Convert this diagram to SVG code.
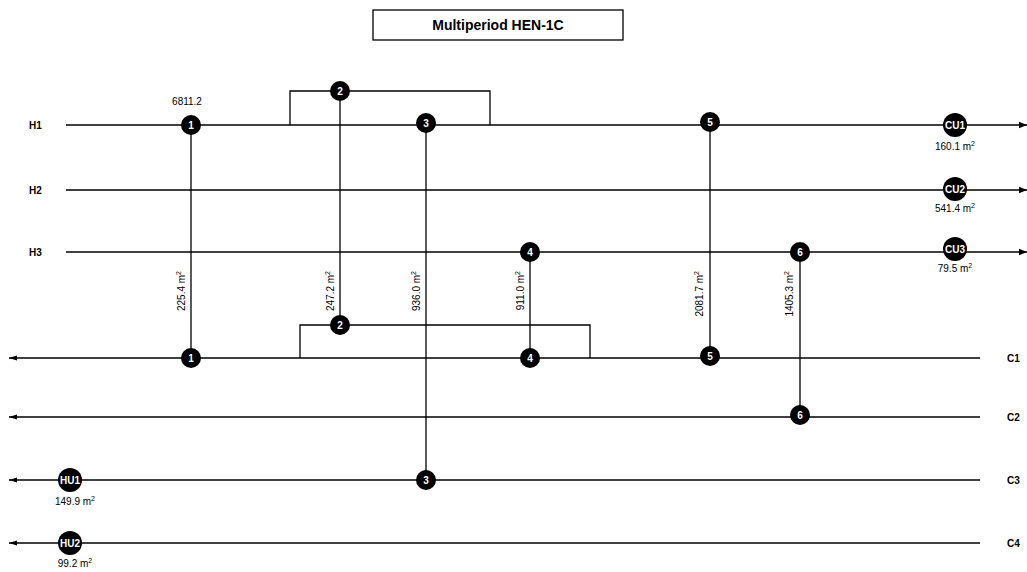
<svg xmlns="http://www.w3.org/2000/svg" width="1027" height="572" viewBox="0 0 1027 572">
<defs>
<style>
.ln{stroke:#000;stroke-width:1.3;fill:none}
.nd{fill:#000}
.nt{fill:#fff;font-family:"Liberation Sans",Arial,sans-serif;font-size:10px;font-weight:bold;text-anchor:middle;dominant-baseline:central}
.lb{fill:#000;font-family:"Liberation Sans",Arial,sans-serif;font-size:10px}
.sl{fill:#000;font-family:"Liberation Sans",Arial,sans-serif;font-size:10px;font-weight:bold}
.sup{font-size:7px}
</style>
<marker id="ar" viewBox="0 0 10 10" refX="10" refY="5" markerWidth="8" markerHeight="8" markerUnits="userSpaceOnUse" orient="auto">
<path d="M0,1 L10,5 L0,9 Z" fill="#000"/>
</marker>
<marker id="arl" viewBox="0 0 10 10" refX="10" refY="5" markerWidth="12" markerHeight="8" markerUnits="userSpaceOnUse" orient="auto">
<path d="M0,2 L10,5 L0,8 Z" fill="#000"/>
</marker>
</defs>
<rect width="1027" height="572" fill="#fff"/>
<g id="title">
<rect x="373" y="10" width="250" height="30" fill="#fff" stroke="#000" stroke-width="1.3"/>
<text x="498" y="30" font-family="Liberation Sans,Arial,sans-serif" font-size="14" font-weight="bold" text-anchor="middle">Multiperiod HEN-1C</text>
</g>
<g id="streams">
<line class="ln" x1="66" y1="125" x2="1027" y2="125" marker-end="url(#ar)"/>
<line class="ln" x1="66" y1="190" x2="1027" y2="190" marker-end="url(#ar)"/>
<line class="ln" x1="66" y1="252" x2="1027" y2="252" marker-end="url(#ar)"/>
<line class="ln" x1="980" y1="358" x2="9" y2="358" marker-end="url(#arl)"/>
<line class="ln" x1="980" y1="417" x2="9" y2="417" marker-end="url(#arl)"/>
<line class="ln" x1="980" y1="480" x2="9" y2="480" marker-end="url(#arl)"/>
<line class="ln" x1="980" y1="543" x2="9" y2="543" marker-end="url(#arl)"/>
<text class="sl" x="29" y="129">H1</text>
<text class="sl" x="29" y="194">H2</text>
<text class="sl" x="29" y="256">H3</text>
<text class="sl" x="1007" y="362">C1</text>
<text class="sl" x="1007" y="421">C2</text>
<text class="sl" x="1007" y="484">C3</text>
<text class="sl" x="1007" y="547">C4</text>
</g>
<g id="connectors">
<polyline class="ln" points="290,125 290,91 490,91 490,125"/>
<polyline class="ln" points="300,358 300,325 590,325 590,358"/>
<line class="ln" x1="191" y1="125" x2="191" y2="358"/>
<line class="ln" x1="340" y1="91" x2="340" y2="325"/>
<line class="ln" x1="426" y1="125" x2="426" y2="480"/>
<line class="ln" x1="530" y1="252" x2="530" y2="358"/>
<line class="ln" x1="710" y1="122" x2="710" y2="358"/>
<line class="ln" x1="800" y1="252" x2="800" y2="417"/>
</g>
<g id="areas">
<text class="lb" transform="translate(185,271) rotate(-90)" text-anchor="end">225.4 m<tspan class="sup" dy="-4">2</tspan></text>
<text class="lb" transform="translate(334,271) rotate(-90)" text-anchor="end">247.2 m<tspan class="sup" dy="-4">2</tspan></text>
<text class="lb" transform="translate(420,271) rotate(-90)" text-anchor="end">936.0 m<tspan class="sup" dy="-4">2</tspan></text>
<text class="lb" transform="translate(524,271) rotate(-90)" text-anchor="end">911.0 m<tspan class="sup" dy="-4">2</tspan></text>
<text class="lb" transform="translate(703,271) rotate(-90)" text-anchor="end">2081.7 m<tspan class="sup" dy="-4">2</tspan></text>
<text class="lb" transform="translate(793,271) rotate(-90)" text-anchor="end">1405.3 m<tspan class="sup" dy="-4">2</tspan></text>
<text class="lb" x="187" y="105" text-anchor="middle">6811.2</text>
</g>
<g id="ex1"><circle class="nd" cx="191" cy="125" r="10"/><text class="nt" x="191" y="125">1</text><circle class="nd" cx="191" cy="358" r="10"/><text class="nt" x="191" y="358">1</text></g>
<g id="ex2"><circle class="nd" cx="340" cy="91" r="10"/><text class="nt" x="340" y="91">2</text><circle class="nd" cx="340" cy="325" r="10"/><text class="nt" x="340" y="325">2</text></g>
<g id="ex3"><circle class="nd" cx="426" cy="123" r="10"/><text class="nt" x="426" y="123">3</text><circle class="nd" cx="426" cy="480" r="10"/><text class="nt" x="426" y="480">3</text></g>
<g id="ex4"><circle class="nd" cx="530" cy="252" r="10"/><text class="nt" x="530" y="252">4</text><circle class="nd" cx="530" cy="358" r="10"/><text class="nt" x="530" y="358">4</text></g>
<g id="ex5"><circle class="nd" cx="710" cy="122" r="10"/><text class="nt" x="710" y="122">5</text><circle class="nd" cx="710" cy="356" r="10"/><text class="nt" x="710" y="356">5</text></g>
<g id="ex6"><circle class="nd" cx="800" cy="252" r="10"/><text class="nt" x="800" y="252">6</text><circle class="nd" cx="800" cy="415" r="10"/><text class="nt" x="800" y="415">6</text></g>
<g id="CU1"><circle class="nd" cx="955" cy="125" r="12"/><text class="nt" x="955" y="125">CU1</text><text class="lb" x="955" y="150" text-anchor="middle">160.1 m<tspan class="sup" dy="-4">2</tspan></text></g>
<g id="CU2"><circle class="nd" cx="955" cy="189" r="12"/><text class="nt" x="955" y="189">CU2</text><text class="lb" x="955" y="212" text-anchor="middle">541.4 m<tspan class="sup" dy="-4">2</tspan></text></g>
<g id="CU3"><circle class="nd" cx="955" cy="249" r="12"/><text class="nt" x="955" y="249">CU3</text><text class="lb" x="955" y="272" text-anchor="middle">79.5 m<tspan class="sup" dy="-4">2</tspan></text></g>
<g id="HU1"><circle class="nd" cx="70" cy="480" r="12"/><text class="nt" x="70" y="480">HU1</text><text class="lb" x="75" y="505" text-anchor="middle">149.9 m<tspan class="sup" dy="-4">2</tspan></text></g>
<g id="HU2"><circle class="nd" cx="70" cy="543" r="12"/><text class="nt" x="70" y="543">HU2</text><text class="lb" x="75" y="567" text-anchor="middle">99.2 m<tspan class="sup" dy="-4">2</tspan></text></g>
</svg>
